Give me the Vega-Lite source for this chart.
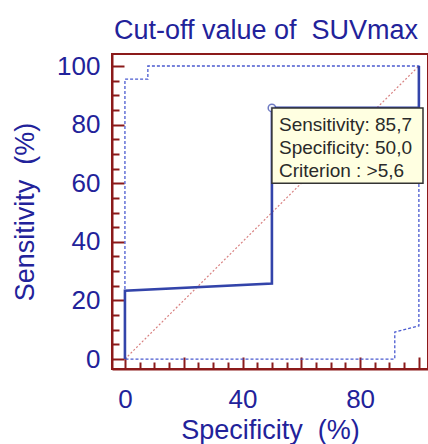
{
  "$schema": "https://vega.github.io/schema/vega-lite/v6.json",
  "autosize": "none",
  "padding": {"left": 112, "top": 54, "right": 0, "bottom": 75},
  "width": 316,
  "height": 315,
  "background": "white",
  "title": {"text": "Cut-off value of\u00a0\u00a0SUVmax", "font": "Liberation Sans", "fontSize": 27, "fontWeight": "normal", "color": "#22229a", "anchor": "middle", "offset": 8, "dx": -4},
  "config": {
    "view": {"stroke": "#8b1a1a", "strokeWidth": 2},
    "axis": {"labelFont": "Liberation Sans", "titleFont": "Liberation Sans", "labelFontSize": 26, "titleFontSize": 27, "titleFontWeight": "normal", "labelColor": "#22229a", "titleColor": "#22229a", "domainColor": "#8b1a1a", "domainWidth": 2, "tickColor": "#8b1a1a", "tickWidth": 2, "grid": false}
  },
  "datasets": {
    "curve": [
      {"spec": 0, "sens": 0, "o": 1},
      {"spec": 0, "sens": 23.3, "o": 2},
      {"spec": 50, "sens": 25.8, "o": 3},
      {"spec": 50, "sens": 85.7, "o": 4},
      {"spec": 100, "sens": 85.7, "o": 5},
      {"spec": 100, "sens": 100, "o": 6}
    ],
    "band": [
      {"spec": 0, "sens": 0, "o": 1},
      {"spec": 0, "sens": 95.5, "o": 2},
      {"spec": 7.8, "sens": 95.5, "o": 3},
      {"spec": 7.8, "sens": 100, "o": 4},
      {"spec": 100, "sens": 100, "o": 5},
      {"spec": 100, "sens": 11.3, "o": 6},
      {"spec": 91.8, "sens": 9.2, "o": 7},
      {"spec": 91.8, "sens": 0, "o": 8},
      {"spec": 0, "sens": 0, "o": 9}
    ],
    "diag": [
      {"spec": 0, "sens": 0},
      {"spec": 100, "sens": 100}
    ],
    "point": [
      {"spec": 50, "sens": 85.7}
    ],
    "box": [
      {"x1": 50, "x2": 101.4, "y1": 60, "y2": 85.7}
    ],
    "lines": [
      {"txt": "Sensitivity: 85,7", "spec": 52.4, "sens": 79.9},
      {"txt": "Specificity: 50,0", "spec": 52.4, "sens": 72.0},
      {"txt": "Criterion : >5,6", "spec": 52.4, "sens": 64.2}
    ]
  },
  "resolve": {"axis": {"x": "independent", "y": "independent"}},
  "layer": [
    {
      "data": {"name": "diag"},
      "mark": {"type": "line", "color": "#d88080", "strokeWidth": 1.2, "strokeDash": [2, 2], "clip": true},
      "encoding": {
        "x": {"field": "spec", "type": "quantitative", "scale": {"domain": [-4.4, 103.1], "nice": false, "zero": false},
          "axis": {"orient": "bottom", "title": "Specificity\u00a0\u00a0(%)", "values": [0,40,80],
            "ticks": false, "labelPadding": 17, "titlePadding": 5}},
        "y": {"field": "sens", "type": "quantitative", "scale": {"domain": [-3.4, 104.1], "nice": false, "zero": false},
          "axis": {"orient": "left", "title": "Sensitivity\u00a0\u00a0(%)", "values": [0,20,40,60,80,100],
            "ticks": false, "labelPadding": 12, "titlePadding": 17}}
      }
    },
    {
      "data": {"name": "band"},
      "mark": {"type": "line", "color": "#4a5ad0", "strokeWidth": 1.3, "strokeDash": [3, 2], "clip": true},
      "encoding": {
        "x": {"field": "spec", "type": "quantitative", "axis": {"orient": "bottom", "values": [5,10,15,25,30,35,45,50,55,65,70,75,85,90,95], "labels": false, "domain": false, "title": null, "tickSize": -7}},
        "y": {"field": "sens", "type": "quantitative", "axis": {"orient": "left", "values": [5,10,15,25,30,35,45,50,55,65,70,75,85,90,95], "labels": false, "domain": false, "title": null, "tickSize": -7}},
        "order": {"field": "o"}
      }
    },
    {
      "data": {"name": "curve"},
      "mark": {"type": "line", "color": "#3344aa", "strokeWidth": 2.6, "clip": true},
      "encoding": {
        "x": {"field": "spec", "type": "quantitative", "axis": {"orient": "bottom", "values": [0,20,40,60,80,100], "labels": false, "domain": false, "title": null, "tickSize": -12}},
        "y": {"field": "sens", "type": "quantitative", "axis": {"orient": "left", "values": [0,20,40,60,80,100], "labels": false, "domain": false, "title": null, "tickSize": -12}},
        "order": {"field": "o"}
      }
    },
    {
      "data": {"name": "point"},
      "mark": {"type": "point", "shape": "circle", "filled": true, "fill": "white", "stroke": "#3344aa", "strokeWidth": 1.5, "size": 55},
      "encoding": {
        "x": {"field": "spec", "type": "quantitative", "axis": null},
        "y": {"field": "sens", "type": "quantitative", "axis": null}
      }
    },
    {
      "data": {"name": "box"},
      "mark": {"type": "rect", "fill": "#ffffe1", "stroke": "#333333", "strokeWidth": 1.5},
      "encoding": {
        "x": {"field": "x1", "type": "quantitative", "axis": null},
        "x2": {"field": "x2"},
        "y": {"field": "y1", "type": "quantitative", "axis": null},
        "y2": {"field": "y2"}
      }
    },
    {
      "data": {"name": "lines"},
      "mark": {"type": "text", "align": "left", "baseline": "middle", "font": "Liberation Sans", "fontSize": 19, "color": "#2a2a2a"},
      "encoding": {
        "x": {"field": "spec", "type": "quantitative", "axis": null},
        "y": {"field": "sens", "type": "quantitative", "axis": null},
        "text": {"field": "txt"}
      }
    }
  ]
}
